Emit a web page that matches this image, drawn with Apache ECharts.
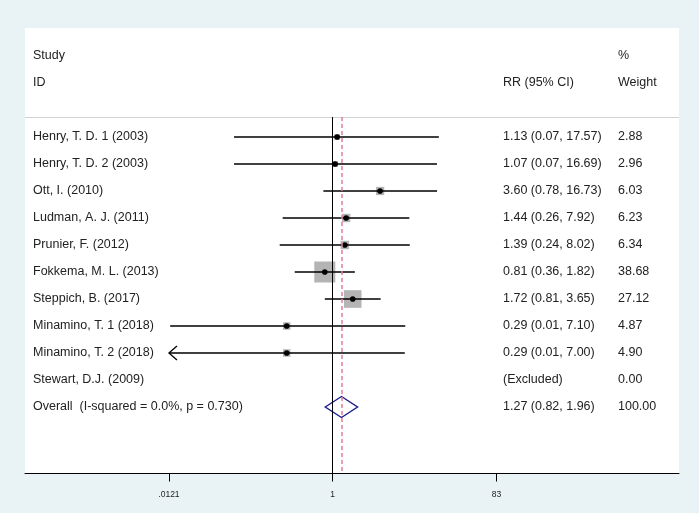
<!DOCTYPE html>
<html>
<head>
<meta charset="utf-8">
<script src="https://cdn.jsdelivr.net/npm/echarts@6/dist/echarts.min.js"></script>
<style>
html, body { margin: 0; padding: 0; background: #e9f3f6; }
#main { width: 699px; height: 513px; }
</style>
</head>
<body>
<div id="main"></div>
<script>
// study data
var studies = ['Henry, T. D. 1 (2003)', 'Henry, T. D. 2 (2003)', 'Ott, I. (2010)', 'Ludman, A. J. (2011)',
    'Prunier, F. (2012)', 'Fokkema, M. L. (2013)', 'Steppich, B. (2017)', 'Minamino, T. 1 (2018)',
    'Minamino, T. 2 (2018)', 'Stewart, D.J. (2009)', 'Overall  (I-squared = 0.0%, p = 0.730)'];
var rr      = [1.13, 1.07, 3.60, 1.44, 1.39, 0.81, 1.72, 0.29, 0.29];
var lower   = [0.07, 0.07, 0.78, 0.26, 0.24, 0.36, 0.81, 0.0125, 0.0105];
var upper   = [17.57, 16.69, 16.73, 7.92, 8.02, 1.82, 3.65, 7.10, 7.00];
var weights = [2.88, 2.96, 6.03, 6.23, 6.34, 38.68, 27.12, 4.87, 4.90];
var ciLabels = ['1.13 (0.07, 17.57)', '1.07 (0.07, 16.69)', '3.60 (0.78, 16.73)', '1.44 (0.26, 7.92)',
    '1.39 (0.24, 8.02)', '0.81 (0.36, 1.82)', '1.72 (0.81, 3.65)', '0.29 (0.01, 7.10)',
    '0.29 (0.01, 7.00)', '(Excluded)', '1.27 (0.82, 1.96)'];
var weightLabels = ['2.88', '2.96', '6.03', '6.23', '6.34', '38.68', '27.12', '4.87', '4.90', '0.00', '100.00'];
var overall = [1.27, 0.82, 1.96];   // est, lower, upper
var tickValues = [0.0121, 1, 83];
var tickLabels = ['.0121', '1', '83'];

// axis extent and CI clip range
var xMin = 0.000249, xMax = 11430;
var clipLo = 0.0121, clipHi = 83;
var yMin = -4.037, yMax = 12.463;
var overallRow = 10;
var sepRow = -0.74;

// text columns (x offsets in pixels inside the grid)
var colStudy = 8, colCI = 478, colW = 593;
var textItems = [
    {x: colStudy, row: -3, text: 'Study'},
    {x: colStudy, row: -2, text: 'ID'},
    {x: colCI, row: -2, text: 'RR (95% CI)'},
    {x: colW, row: -3, text: '%'},
    {x: colW, row: -2, text: 'Weight'}
];
studies.forEach(function (s, i) {
    textItems.push({x: colStudy, row: i, text: s});
    textItems.push({x: colCI, row: i, text: ciLabels[i]});
    textItems.push({x: colW, row: i, text: weightLabels[i]});
});

var studyData = rr.map(function (v, i) {
    return [v, lower[i], upper[i], weights[i], i];
});

function renderStudy(params, api) {
    var est = api.value(0), lo = api.value(1), hi = api.value(2), w = api.value(3), row = api.value(4);
    var pL = api.coord([Math.max(lo, clipLo), row]);
    var pH = api.coord([Math.min(hi, clipHi), row]);
    var pE = api.coord([est, row]);
    var side = 21 * Math.sqrt(w / 38.68);
    var children = [
        {type: 'rect', shape: {x: pE[0] - side / 2, y: pE[1] - side / 2, width: side, height: side},
            style: {fill: '#b4b4b4'}},
        {type: 'line', shape: {x1: pL[0], y1: pL[1], x2: pH[0], y2: pH[1]},
            style: {stroke: '#000', lineWidth: 1.3}},
        {type: 'circle', shape: {cx: pE[0], cy: pE[1], r: 2.8}, style: {fill: '#000'}}
    ];
    if (lo < clipLo) {
        children.push({type: 'polyline',
            shape: {points: [[pL[0] + 8, pL[1] - 7], [pL[0], pL[1]], [pL[0] + 8, pL[1] + 7]]},
            style: {stroke: '#000', fill: null, lineWidth: 1.3}});
    }
    return {type: 'group', children: children};
}

function renderDiamond(params, api) {
    var row = api.value(3);
    var pE = api.coord([api.value(0), row]);
    var pL = api.coord([api.value(1), row]);
    var pH = api.coord([api.value(2), row]);
    return {
        type: 'polygon',
        shape: {points: [[pL[0], pE[1]], [pE[0], pE[1] - 10.5], [pH[0], pE[1]], [pE[0], pE[1] + 10.5]]},
        style: {stroke: '#1c1c8c', fill: 'rgba(0,0,0,0)', lineWidth: 1.4}
    };
}

function renderText(params, api) {
    var p = api.coord([api.value(0), api.value(1)]);
    return {
        type: 'text', x: p[0], y: p[1],
        style: {text: textItems[params.dataIndex].text, fill: '#222',
            font: '12.5px "Liberation Sans", Arial, sans-serif', align: 'left', verticalAlign: 'middle'}
    };
}

var option = {
    backgroundColor: '#e9f3f6',
    animation: false,
    grid: {left: 25, right: 20, top: 28, bottom: 39.5, show: true, backgroundColor: '#fff', borderWidth: 0},
    xAxis: [{
        type: 'log',
        min: xMin,
        max: xMax,
        position: 'bottom',
        splitLine: {show: false},
        axisLine: {onZero: false, lineStyle: {color: '#000', width: 1}},
        axisTick: {show: true, length: 8, customValues: tickValues, lineStyle: {color: '#000'}},
        axisLabel: {
            customValues: tickValues,
            margin: 17,
            fontSize: 8.5,
            color: '#222',
            fontFamily: 'Liberation Sans',
            formatter: function (v) {
                var best = 0;
                tickValues.forEach(function (t, i) {
                    if (Math.abs(Math.log(t) - Math.log(v)) < Math.abs(Math.log(tickValues[best]) - Math.log(v))) best = i;
                });
                return tickLabels[best];
            }
        }
    }, {
        type: 'value',
        min: 0,
        max: 654,
        show: false
    }],
    yAxis: {
        type: 'value',
        min: yMin,
        max: yMax,
        inverse: true,
        show: false
    },
    series: [{
        type: 'custom',
        name: 'lines',
        xAxisIndex: 0,
        silent: true,
        data: [[1, sepRow]],
        renderItem: function () { return null; },
        markLine: {
            symbol: 'none',
            silent: true,
            label: {show: false},
            data: [
                [{coord: [xMin, sepRow], lineStyle: {color: '#d2d2d2', width: 1, type: 'solid'}},
                 {coord: [xMax, sepRow]}],
                [{coord: [1, sepRow], lineStyle: {color: '#000', width: 1, type: 'solid'}},
                 {coord: [1, yMax]}],
                [{coord: [overall[0], sepRow], lineStyle: {color: '#e27d92', width: 1.5, type: [4, 3]}},
                 {coord: [overall[0], yMax]}]
            ]
        }
    }, {
        type: 'custom',
        name: 'studies',
        xAxisIndex: 0,
        silent: true,
        encode: {x: [0, 1, 2], y: 4},
        data: studyData,
        renderItem: renderStudy
    }, {
        type: 'custom',
        name: 'overall',
        xAxisIndex: 0,
        silent: true,
        encode: {x: [0, 1, 2], y: 3},
        data: [[overall[0], overall[1], overall[2], overallRow]],
        renderItem: renderDiamond
    }, {
        type: 'custom',
        name: 'text',
        xAxisIndex: 1,
        silent: true,
        data: textItems.map(function (t) { return [t.x, t.row]; }),
        renderItem: renderText
    }]
};

var chart = echarts.init(document.getElementById('main'));
chart.setOption(option);
</script>
</body>
</html>
